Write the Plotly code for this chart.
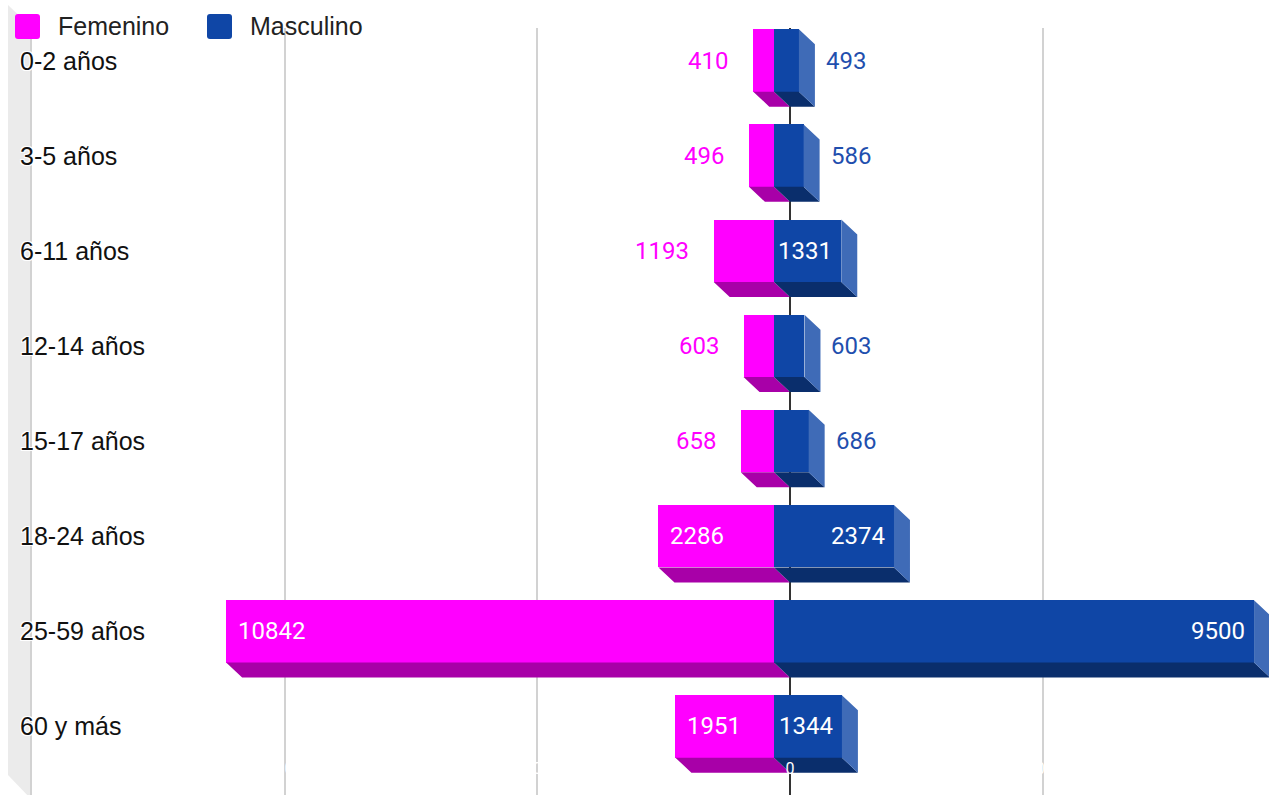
import plotly.graph_objects as go

# ---------------- data ----------------
categories = ["0-2 años", "3-5 años", "6-11 años", "12-14 años",
              "15-17 años", "18-24 años", "25-59 años", "60 y más"]
femenino = [410, 496, 1193, 603, 658, 2286, 10842, 1951]
masculino = [493, 586, 1331, 603, 686, 2374, 9500, 1344]
series_names = ["Femenino", "Masculino"]
x_tickvals = [-15000, -10000, -5000, 0, 5000]
x_ticktext = ["-15.000", "-10.000", "-5.000", "0", "5.000"]

# ---------------- styling / geometry ----------------
W, H = 1269, 795
ML, MR, MT, MB = 32, 0, 28, 0
plot_w = W - ML - MR
plot_h = H - MT - MB
x_range = [-15000, 9479]
y_range = [7.5626, -0.4993]
px_per_x = plot_w / (x_range[1] - x_range[0])
px_per_y = plot_h / (y_range[0] - y_range[1])
DEPTH_X = 16 / px_per_x      # 3D depth offset (data units)
DEPTH_Y = 15 / px_per_y
BAR_H = 62.4 / px_per_y

F_FRONT, F_BOTTOM = "#ff00ff", "#a800a8"
M_FRONT, M_BOTTOM, M_SIDE = "#0f46a6", "#0a2e6c", "#3f6bb7"
F_LABEL, M_LABEL = "#ff00ff", "#1f4fae"
VAL_FONT = "Roboto"
TXT_FONT = "Liberation Sans, Arial"
HALO = "white 1px 1px 0px, white -1px -1px 0px, white 1px -1px 0px, white -1px 1px 0px, white 0px 0px 2px"

pos = list(range(len(categories)))
front_y = [p - DEPTH_Y for p in pos]

fig = go.Figure()

# front faces
fig.add_trace(go.Bar(y=front_y, x=[-v for v in femenino], base=-DEPTH_X, orientation="h",
                     width=BAR_H, marker=dict(color=F_FRONT, line=dict(width=0)),
                     name=series_names[0], showlegend=False, hoverinfo="skip"))
fig.add_trace(go.Bar(y=front_y, x=masculino, base=-DEPTH_X, orientation="h",
                     width=BAR_H, marker=dict(color=M_FRONT, line=dict(width=0)),
                     name=series_names[1], showlegend=False, hoverinfo="skip"))

# depth faces
def poly_trace(xs, ys, color):
    return go.Scatter(x=xs, y=ys, mode="lines", fill="toself", fillcolor=color,
                      line=dict(width=0, color=color), showlegend=False, hoverinfo="skip")

fbx, fby, mbx, mby, msx, msy = [], [], [], [], [], []
for p, f, m in zip(pos, femenino, masculino):
    fb = p - DEPTH_Y + BAR_H / 2   # front bottom
    bb = p + BAR_H / 2             # back bottom
    ft = p - DEPTH_Y - BAR_H / 2   # front top
    bt = p - BAR_H / 2             # back top
    fbx += [-f - DEPTH_X, -DEPTH_X, 0, -f, -f - DEPTH_X, None]
    fby += [fb, fb, bb, bb, fb, None]
    mbx += [-DEPTH_X, m - DEPTH_X, m, 0, -DEPTH_X, None]
    mby += [fb, fb, bb, bb, fb, None]
    msx += [m - DEPTH_X, m, m, m - DEPTH_X, m - DEPTH_X, None]
    msy += [ft, bt, bb, fb, ft, None]
fig.add_trace(poly_trace(fbx, fby, F_BOTTOM))
fig.add_trace(poly_trace(mbx, mby, M_BOTTOM))
fig.add_trace(poly_trace(msx, msy, M_SIDE))

annotations = []
digit_w = 0.5615 * 24
# value labels
for p, f, m in zip(front_y, femenino, masculino):
    fw = f * px_per_x
    lw = len(str(f)) * digit_w
    if fw >= lw + 12:
        annotations.append(dict(x=-f - DEPTH_X, y=p, text=str(f), xanchor="left", xshift=10,
                                showarrow=False, font=dict(family=VAL_FONT, size=24, color="#ffffff")))
    else:
        annotations.append(dict(x=-f - DEPTH_X, y=p, text=str(f), xanchor="right", xshift=-23,
                                showarrow=False, font=dict(family=VAL_FONT, size=24, color=F_LABEL)))
    mw = m * px_per_x
    lw = len(str(m)) * digit_w
    if mw >= lw + 12:
        annotations.append(dict(x=m - DEPTH_X, y=p, text=str(m), xanchor="right", xshift=-7,
                                showarrow=False, font=dict(family=VAL_FONT, size=24, color="#ffffff")))
    else:
        annotations.append(dict(x=m - DEPTH_X, y=p, text=str(m), xanchor="left", xshift=25,
                                showarrow=False, font=dict(family=VAL_FONT, size=24, color=M_LABEL)))

# category labels
for p, c in zip(front_y, categories):
    annotations.append(dict(x=0, xref="paper", y=p, yref="y", text=c, xanchor="left", xshift=-14,
                            showarrow=False,
                            font=dict(family=TXT_FONT, size=25, color="#111111", shadow=HALO)))

def px_to_paper_x(px):
    return (px - ML) / plot_w

def px_to_paper_y(py):
    return (H - MB - py) / plot_h

def rounded_rect_path(x0, y0, x1, y1, r):
    pts = []
    X = px_to_paper_x
    Y = px_to_paper_y
    return (f"M {X(x0 + r)},{Y(y0)} L {X(x1 - r)},{Y(y0)} Q {X(x1)},{Y(y0)} {X(x1)},{Y(y0 + r)} "
            f"L {X(x1)},{Y(y1 - r)} Q {X(x1)},{Y(y1)} {X(x1 - r)},{Y(y1)} "
            f"L {X(x0 + r)},{Y(y1)} Q {X(x0)},{Y(y1)} {X(x0)},{Y(y1 - r)} "
            f"L {X(x0)},{Y(y0 + r)} Q {X(x0)},{Y(y0)} {X(x0 + r)},{Y(y0)} Z")

shapes = []
# left gray wall
wall = [(8, 5), (32, 28), (32, 800), (8, 775)]
path = "M " + " L ".join(f"{px_to_paper_x(a):.5f},{px_to_paper_y(b):.5f}" for a, b in wall) + " Z"
shapes.append(dict(type="path", xref="paper", yref="paper", path=path,
                   fillcolor="#ebebeb", line=dict(width=0), layer="below"))

# legend
legend_items = [(15, series_names[0], F_FRONT), (207, series_names[1], M_FRONT)]
for lx, name, col in legend_items:
    shapes.append(dict(type="path", xref="paper", yref="paper",
                       path=rounded_rect_path(lx, 14, lx + 25, 39, 3),
                       fillcolor=col, line=dict(width=0), layer="above"))
    annotations.append(dict(x=px_to_paper_x(lx + 41), y=px_to_paper_y(26), xref="paper", yref="paper",
                            text=name, xanchor="left", yanchor="middle", showarrow=False,
                            font=dict(family=TXT_FONT, size=25, color="#222222")))

fig.update_layout(
    width=W, height=H,
    margin=dict(l=ML, r=MR, t=MT, b=MB, pad=0),
    paper_bgcolor="white", plot_bgcolor="white",
    barmode="overlay", bargap=0,
    showlegend=False,
    xaxis=dict(range=x_range, tickvals=x_tickvals, ticktext=x_ticktext,
               showgrid=True, gridcolor="#d2d2d2", gridwidth=2,
               zeroline=True, zerolinecolor="#333333", zerolinewidth=2,
               ticklabelposition="inside", ticklabelstandoff=15, ticks="",
               tickfont=dict(family=VAL_FONT, size=16, color="#ffffff"),
               showline=False, fixedrange=True),
    yaxis=dict(range=y_range, showticklabels=False, showgrid=False, zeroline=False,
               showline=True, linecolor="#d2d2d2", linewidth=2, ticks="", fixedrange=True),
    annotations=annotations,
    shapes=shapes,
)

fig.write_html("out.html", config={"displayModeBar": False},
               post_script="document.body.style.margin='0';document.body.style.overflow='hidden';")
